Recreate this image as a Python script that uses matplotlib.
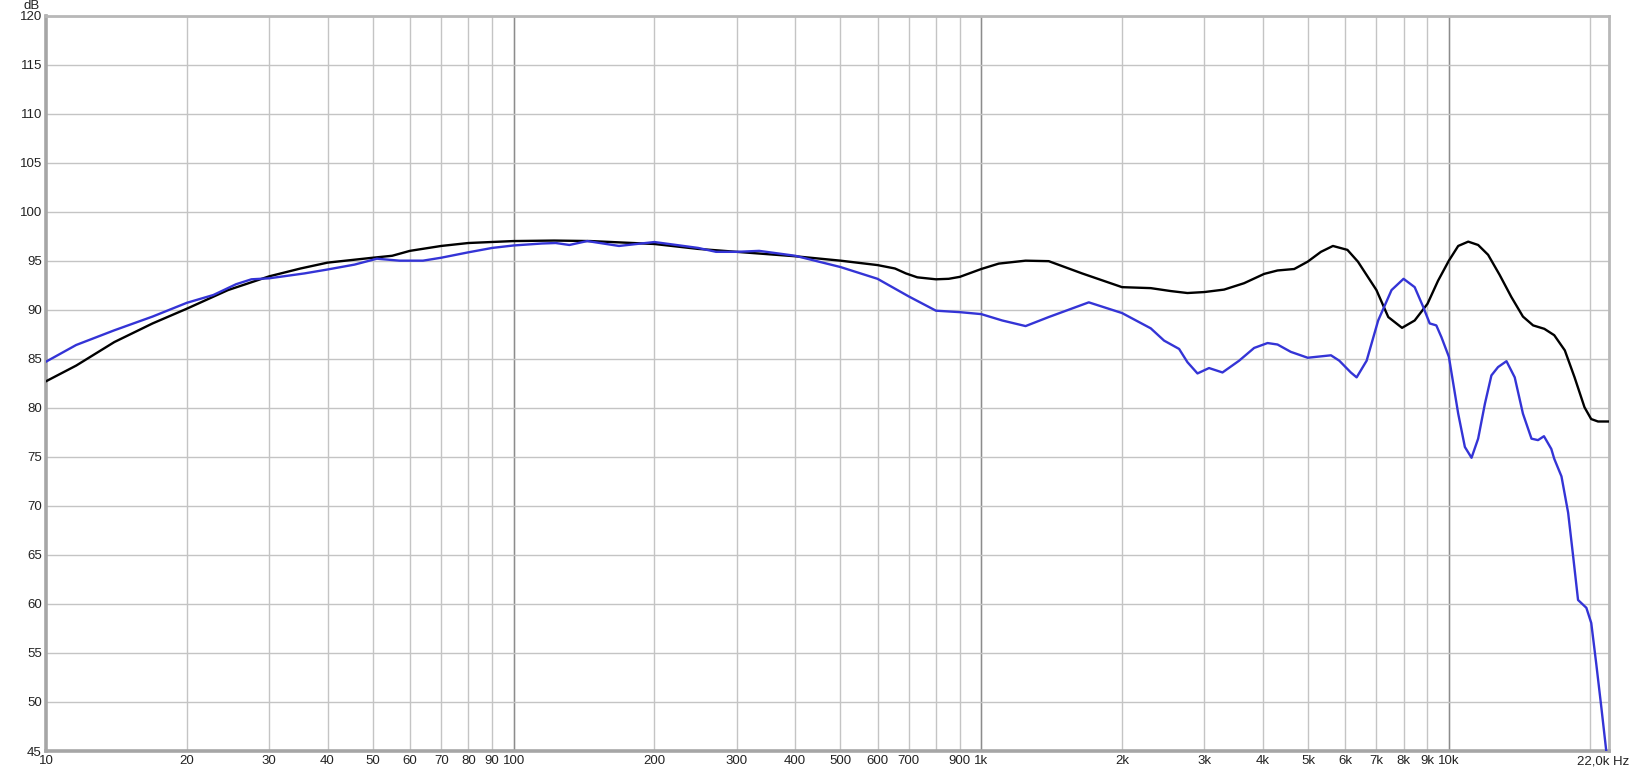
import numpy as np
import matplotlib.pyplot as plt

plt.rcParams['font.family'] = ['Liberation Sans', 'DejaVu Sans']

# ── Data ──────────────────────────────────────────────────────────────────────
black_freq = [10, 11.6, 14.0, 16.9, 20, 24.5, 30, 35, 40, 50, 55, 60, 70, 80,
              100, 122, 146, 200, 248, 300, 400, 500, 600, 654, 690, 730, 800,
              852, 900, 1000, 1090, 1244, 1394, 1643, 2000, 2304, 2543, 2760,
              3000, 3306, 3647, 4027, 4301, 4670, 4990, 5326, 5650, 6068, 6390,
              7000, 7420, 7940, 8450, 9000, 9480, 10000, 10470, 11000, 11550,
              12130, 12840, 13600, 14400, 15140, 16000, 16800, 17700, 18570,
              19500, 20150, 20840, 22000]
black_db = [82.7, 84.3, 86.7, 88.6, 90.1, 92.0, 93.4, 94.2, 94.8, 95.3, 95.5,
            96.0, 96.5, 96.8, 97.0, 97.05, 97.0, 96.7, 96.2, 95.9, 95.45, 95.0,
            94.55, 94.2, 93.7, 93.3, 93.1, 93.15, 93.35, 94.15, 94.7, 95.0,
            94.95, 93.7, 92.3, 92.2, 91.9, 91.7, 91.8, 92.05, 92.7, 93.65, 94.0,
            94.15, 94.9, 95.9, 96.5, 96.1, 94.9, 92.0, 89.25, 88.15, 88.9, 90.6,
            92.95, 95.0, 96.5, 96.94, 96.6, 95.6, 93.55, 91.3, 89.3, 88.4,
            88.05, 87.4, 85.85, 83.1, 80.05, 78.85, 78.6, 78.6]

blue_freq = [10, 11.6, 14.0, 16.9, 20, 22.8, 25.5, 27.5, 30, 35.7, 40, 45.7, 51,
             57, 64, 70, 80, 90, 100, 115, 123, 131.6, 143.7, 168, 200, 248, 271,
             300, 335, 400, 500, 600, 700, 800, 900, 1000, 1109, 1244, 1394,
             1698, 2000, 2304, 2460, 2649, 2760, 2900, 3070, 3280, 3560, 3833,
             4095, 4301, 4592, 4990, 5596, 5830, 6170, 6350, 6670, 7060, 7540,
             8000, 8450, 8810, 9100, 9400, 9640, 10000, 10470, 10820, 11180,
             11550, 11940, 12330, 12740, 13280, 13830, 14400, 15020, 15510,
             15970, 16560, 16800, 17410, 17990, 18440, 18890, 19680, 20160,
             20660, 21180, 21700]
blue_db = [84.7, 86.4, 87.9, 89.3, 90.7, 91.5, 92.6, 93.1, 93.2, 93.7, 94.1,
           94.6, 95.2, 95.0, 95.0, 95.3, 95.85, 96.3, 96.55, 96.75, 96.8, 96.6,
           97.0, 96.5, 96.9, 96.3, 95.9, 95.9, 96.0, 95.5, 94.35, 93.15, 91.35,
           89.9, 89.75, 89.55, 88.9, 88.33, 89.25, 90.75, 89.66, 88.1, 86.85,
           86.0, 84.65, 83.5, 84.05, 83.6, 84.8, 86.1, 86.6, 86.45, 85.7, 85.1,
           85.35, 84.8, 83.6, 83.1, 84.8, 88.9, 92.0, 93.15, 92.3, 90.3, 88.6,
           88.4, 87.2, 85.2, 79.4, 76.0, 74.9, 76.85, 80.4, 83.3, 84.15, 84.75,
           83.1, 79.4, 76.85, 76.7, 77.1, 75.8, 74.8, 73.0, 69.3, 64.85, 60.4,
           59.6, 58.05, 53.9, 49.5, 45.05]

grid_freqs = [20, 30, 40, 50, 60, 70, 80, 90, 100, 200, 300, 400, 500, 600, 700,
              800, 900, 1000, 2000, 3000, 4000, 5000, 6000, 7000, 8000, 9000,
              10000, 20000]
decade_freqs = [100, 1000, 10000]
x_ticks = [10, 20, 30, 40, 50, 60, 70, 80, 90, 100, 200, 300, 400, 500, 600,
           700, 900, 1000, 2000, 3000, 4000, 5000, 6000, 7000, 8000, 9000,
           10000]
x_labels = ['10', '20', '30', '40', '50', '60', '70', '80', '90', '100', '200',
            '300', '400', '500', '600', '700', '900', '1k', '2k', '3k', '4k',
            '5k', '6k', '7k', '8k', '9k', '10k']
end_label = '22,0k Hz'
y_ticks = list(range(45, 121, 5))

# ── Figure ────────────────────────────────────────────────────────────────────
fig = plt.figure(figsize=(16.33, 7.72), dpi=100)
ax = fig.add_axes([46 / 1633, 1 - 751 / 772, (1609 - 46) / 1633, (751 - 15.5) / 772])

ax.set_xscale('log')
ax.set_xlim(10, 22000)
ax.set_ylim(45, 120)

for f in grid_freqs:
    ax.axvline(f, color='#c4c4c4', lw=1, zorder=0)
for f in decade_freqs:
    ax.axvline(f, color='#8c8c8c', lw=1, zorder=0)
for y in y_ticks:
    ax.axhline(y, color='#c4c4c4', lw=1, zorder=0)

ax.plot(black_freq, black_db, color='black', lw=1.7, zorder=3)
ax.plot(blue_freq, blue_db, color='#3434d6', lw=1.7, zorder=4)

ax.xaxis.set_minor_locator(plt.NullLocator())
ax.set_xticks(x_ticks)
ax.set_xticklabels(x_labels)
ax.set_yticks(y_ticks)
ax.set_yticklabels([str(v) for v in y_ticks])
ax.tick_params(axis='both', length=0, labelsize=9.5, colors='#222222')
ax.tick_params(axis='x', pad=3)
ax.tick_params(axis='y', pad=3)

for side in ['left', 'bottom']:
    ax.spines[side].set_color('#a6a6a6')
    ax.spines[side].set_linewidth(2.6)
for side in ['top', 'right']:
    ax.spines[side].set_color('#b8b8b8')
    ax.spines[side].set_linewidth(2.0)

fig.text(32 / 1633, 1 - 6 / 772, 'dB', ha='center', va='center', fontsize=9.5,
         color='#222222')
fig.text(1629 / 1633, 1 - 756 / 772, end_label, ha='right', va='top',
         fontsize=9.5, color='#222222')

fig.savefig('out.png', dpi=100)
